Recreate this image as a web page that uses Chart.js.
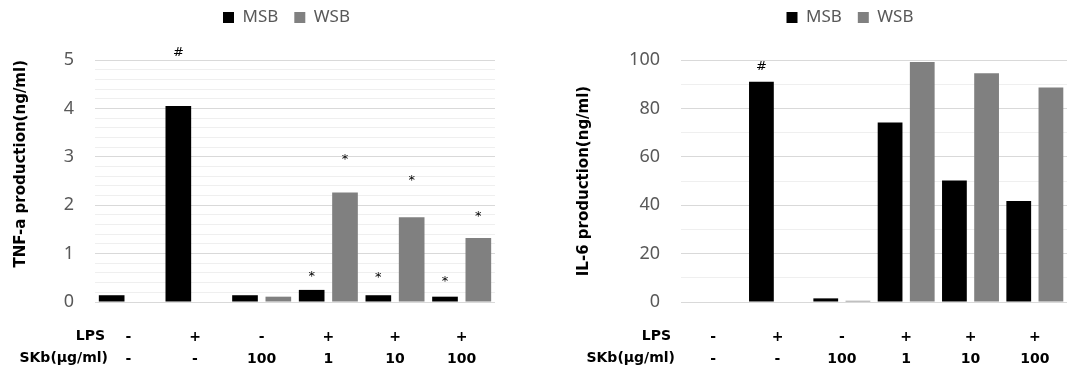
<!DOCTYPE html>
<html>
<head>
<meta charset="utf-8">
<script src="https://cdn.jsdelivr.net/npm/chart.js@4.4.0/dist/chart.umd.min.js"></script>
<style>
body { margin: 0; background: #fff; }
.box { position: absolute; top: 0; height: 371px; }
</style>
</head>
<body>
<div class="box" style="left:0;width:540px"><canvas id="tnfChart" width="540" height="371"></canvas></div>
<div class="box" style="left:540px;width:531px"><canvas id="il6Chart" width="531" height="371"></canvas></div>
<script>
// categories (two label rows under the x axis)
const lpsRow = ['-', '+', '-', '+', '+', '+'];
const skbRow = ['-', '-', '100', '1', '10', '100'];
const rowHeaders = ['LPS', 'SKb(\u03bcg/ml)'];
const seriesNames = ['MSB', 'WSB'];

// TNF-a (ng/ml)
const tnfMSB = [0.14, 4.05, 0.14, 0.25, 0.14, 0.11];
const tnfWSB = [0, 0, 0.11, 2.26, 1.75, 1.32];
const tnfMarkMSB = ['', '#', '', '*', '*', '*'];
const tnfMarkAtMSB = [null, 5.16, null, 0.58, 0.56, 0.49];
const tnfMarkWSB = ['', '', '', '*', '*', '*'];
const tnfMarkAtWSB = [null, null, null, 3.0, 2.57, 1.83];

// IL-6 (ng/ml)
const il6MSB = [0, 91, 1.5, 74.2, 50.2, 41.7];
const il6WSB = [0, 0, 0.5, 99.2, 94.5, 88.6];
const il6MarkMSB = ['', '#', '', '', '', ''];
const il6MarkAtMSB = [null, 97.1, null, null, null, null];
const il6MarkWSB = ['', '', '', '', '', ''];
const il6MarkAtWSB = [null, null, null, null, null, null];

Chart.defaults.font.family = '"Noto Sans", "Open Sans", sans-serif';

const categories = lpsRow.map((v, i) => [v, skbRow[i]]);
const X_PAD = 23;     // gap between plot bottom and first label row
const X_LINE = 22;    // label row height
const BOLD_FAMILY = '"DejaVu Sans", sans-serif';

function isMajor(v, step) {
    return Math.abs(v / step - Math.round(v / step)) < 1e-6;
}

function buildChart(id, cfg) {
    const ctx = document.getElementById(id).getContext('2d');

    // moves the legend to where the original had it
    const legendShift = {
        id: 'legendShift',
        afterLayout(chart) {
            chart.legend.left += cfg.legendDx;
            chart.legend.right += cfg.legendDx;
            chart.legend.top += cfg.legendDy;
            chart.legend.bottom += cfg.legendDy;
        }
    };

    // "#" and "*" marks over the bars + row headers of the label table
    const extras = {
        id: 'extras',
        afterDraw(chart) {
            const c = chart.ctx;
            const y = chart.scales.y;
            const x = chart.scales.x;
            c.save();
            c.fillStyle = '#000';
            c.textAlign = 'center';
            c.textBaseline = 'middle';
            [[cfg.marksMSB, cfg.marksAtMSB], [cfg.marksWSB, cfg.marksAtWSB]].forEach((pair, di) => {
                const meta = chart.getDatasetMeta(di);
                pair[0].forEach((m, j) => {
                    if (!m) return;
                    c.font = m === '*' ? '13px "DejaVu Sans"' : '13px "DejaVu Sans"';
                    const py = y.getPixelForValue(pair[1][j]) + (m === '*' ? 3 : 0);
                    c.fillText(m, meta.data[j].x, py);
                });
            });
            c.font = 'bold 14px ' + BOLD_FAMILY;
            c.textAlign = 'right';
            rowHeaders.forEach((h, i) => {
                c.fillText(h, cfg.headerRight[i], x.top + X_PAD + X_LINE * (i + 0.5));
            });
            c.restore();
        }
    };

    return new Chart(ctx, {
        type: 'bar',
        data: {
            labels: categories,
            datasets: [
                {
                    label: seriesNames[0],
                    data: cfg.msb,
                    backgroundColor: '#000000',
                    categoryPercentage: 1.0,
                    barPercentage: 0.77
                },
                {
                    label: seriesNames[1],
                    data: cfg.wsb,
                    backgroundColor: '#808080',
                    categoryPercentage: 1.0,
                    barPercentage: 0.77
                }
            ]
        },
        options: {
            responsive: false,
            animation: false,
            layout: {
                padding: { left: cfg.padLeft, right: cfg.padRight, top: 17, bottom: 0 }
            },
            scales: {
                x: {
                    grid: { display: false },
                    border: { display: false },
                    ticks: {
                        color: '#000',
                        font: { family: BOLD_FAMILY, size: 14, weight: 'bold', lineHeight: X_LINE + 'px' },
                        padding: X_PAD - 7,
                        autoSkip: false,
                        maxRotation: 0
                    },
                    afterFit: s => { s.height = 69; }
                },
                y: {
                    min: 0,
                    max: cfg.yMax,
                    border: { display: false },
                    grid: {
                        drawTicks: false,
                        color: c => isMajor(c.tick.value, cfg.labelStep) ? '#d9d9d9' : '#efefef'
                    },
                    ticks: {
                        stepSize: cfg.yStep,
                        autoSkip: false,
                        padding: 21,
                        color: '#595959',
                        font: { size: 18 },
                        callback: v => isMajor(v, cfg.labelStep) ? Math.round(v) : ''
                    },
                    title: {
                        display: true,
                        text: cfg.yTitle,
                        align: cfg.titleAlign,
                        color: '#000',
                        font: { family: BOLD_FAMILY, size: 15, weight: 'bold' }
                    },
                    afterFit: s => { s.width = cfg.yWidth; }
                }
            },
            plugins: {
                legend: {
                    position: 'top',
                    labels: {
                        boxWidth: 11,
                        boxHeight: 11,
                        padding: 16,
                        color: '#595959',
                        font: { size: 17 }
                    }
                },
                tooltip: { enabled: false }
            }
        },
        plugins: [legendShift, extras]
    });
}

const tnfChart = buildChart('tnfChart', {
    msb: tnfMSB, wsb: tnfWSB,
    marksMSB: tnfMarkMSB, marksAtMSB: tnfMarkAtMSB,
    marksWSB: tnfMarkWSB, marksAtWSB: tnfMarkAtWSB,
    yMax: 5, yStep: 0.2, labelStep: 1,
    yTitle: 'TNF-a production(ng/ml)', titleAlign: 'end',
    padLeft: 8, padRight: 45, yWidth: 87,
    legendDx: 35, legendDy: -24,
    headerRight: [105, 108]
});

const il6Chart = buildChart('il6Chart', {
    msb: il6MSB, wsb: il6WSB,
    marksMSB: il6MarkMSB, marksAtMSB: il6MarkAtMSB,
    marksWSB: il6MarkWSB, marksAtWSB: il6MarkAtWSB,
    yMax: 100, yStep: 10, labelStep: 20,
    yTitle: 'IL-6 production(ng/ml)', titleAlign: 'center',
    padLeft: 31, padRight: 4, yWidth: 110,
    legendDx: 31, legendDy: -24,
    headerRight: [131, 135]
});
</script>
</body>
</html>
